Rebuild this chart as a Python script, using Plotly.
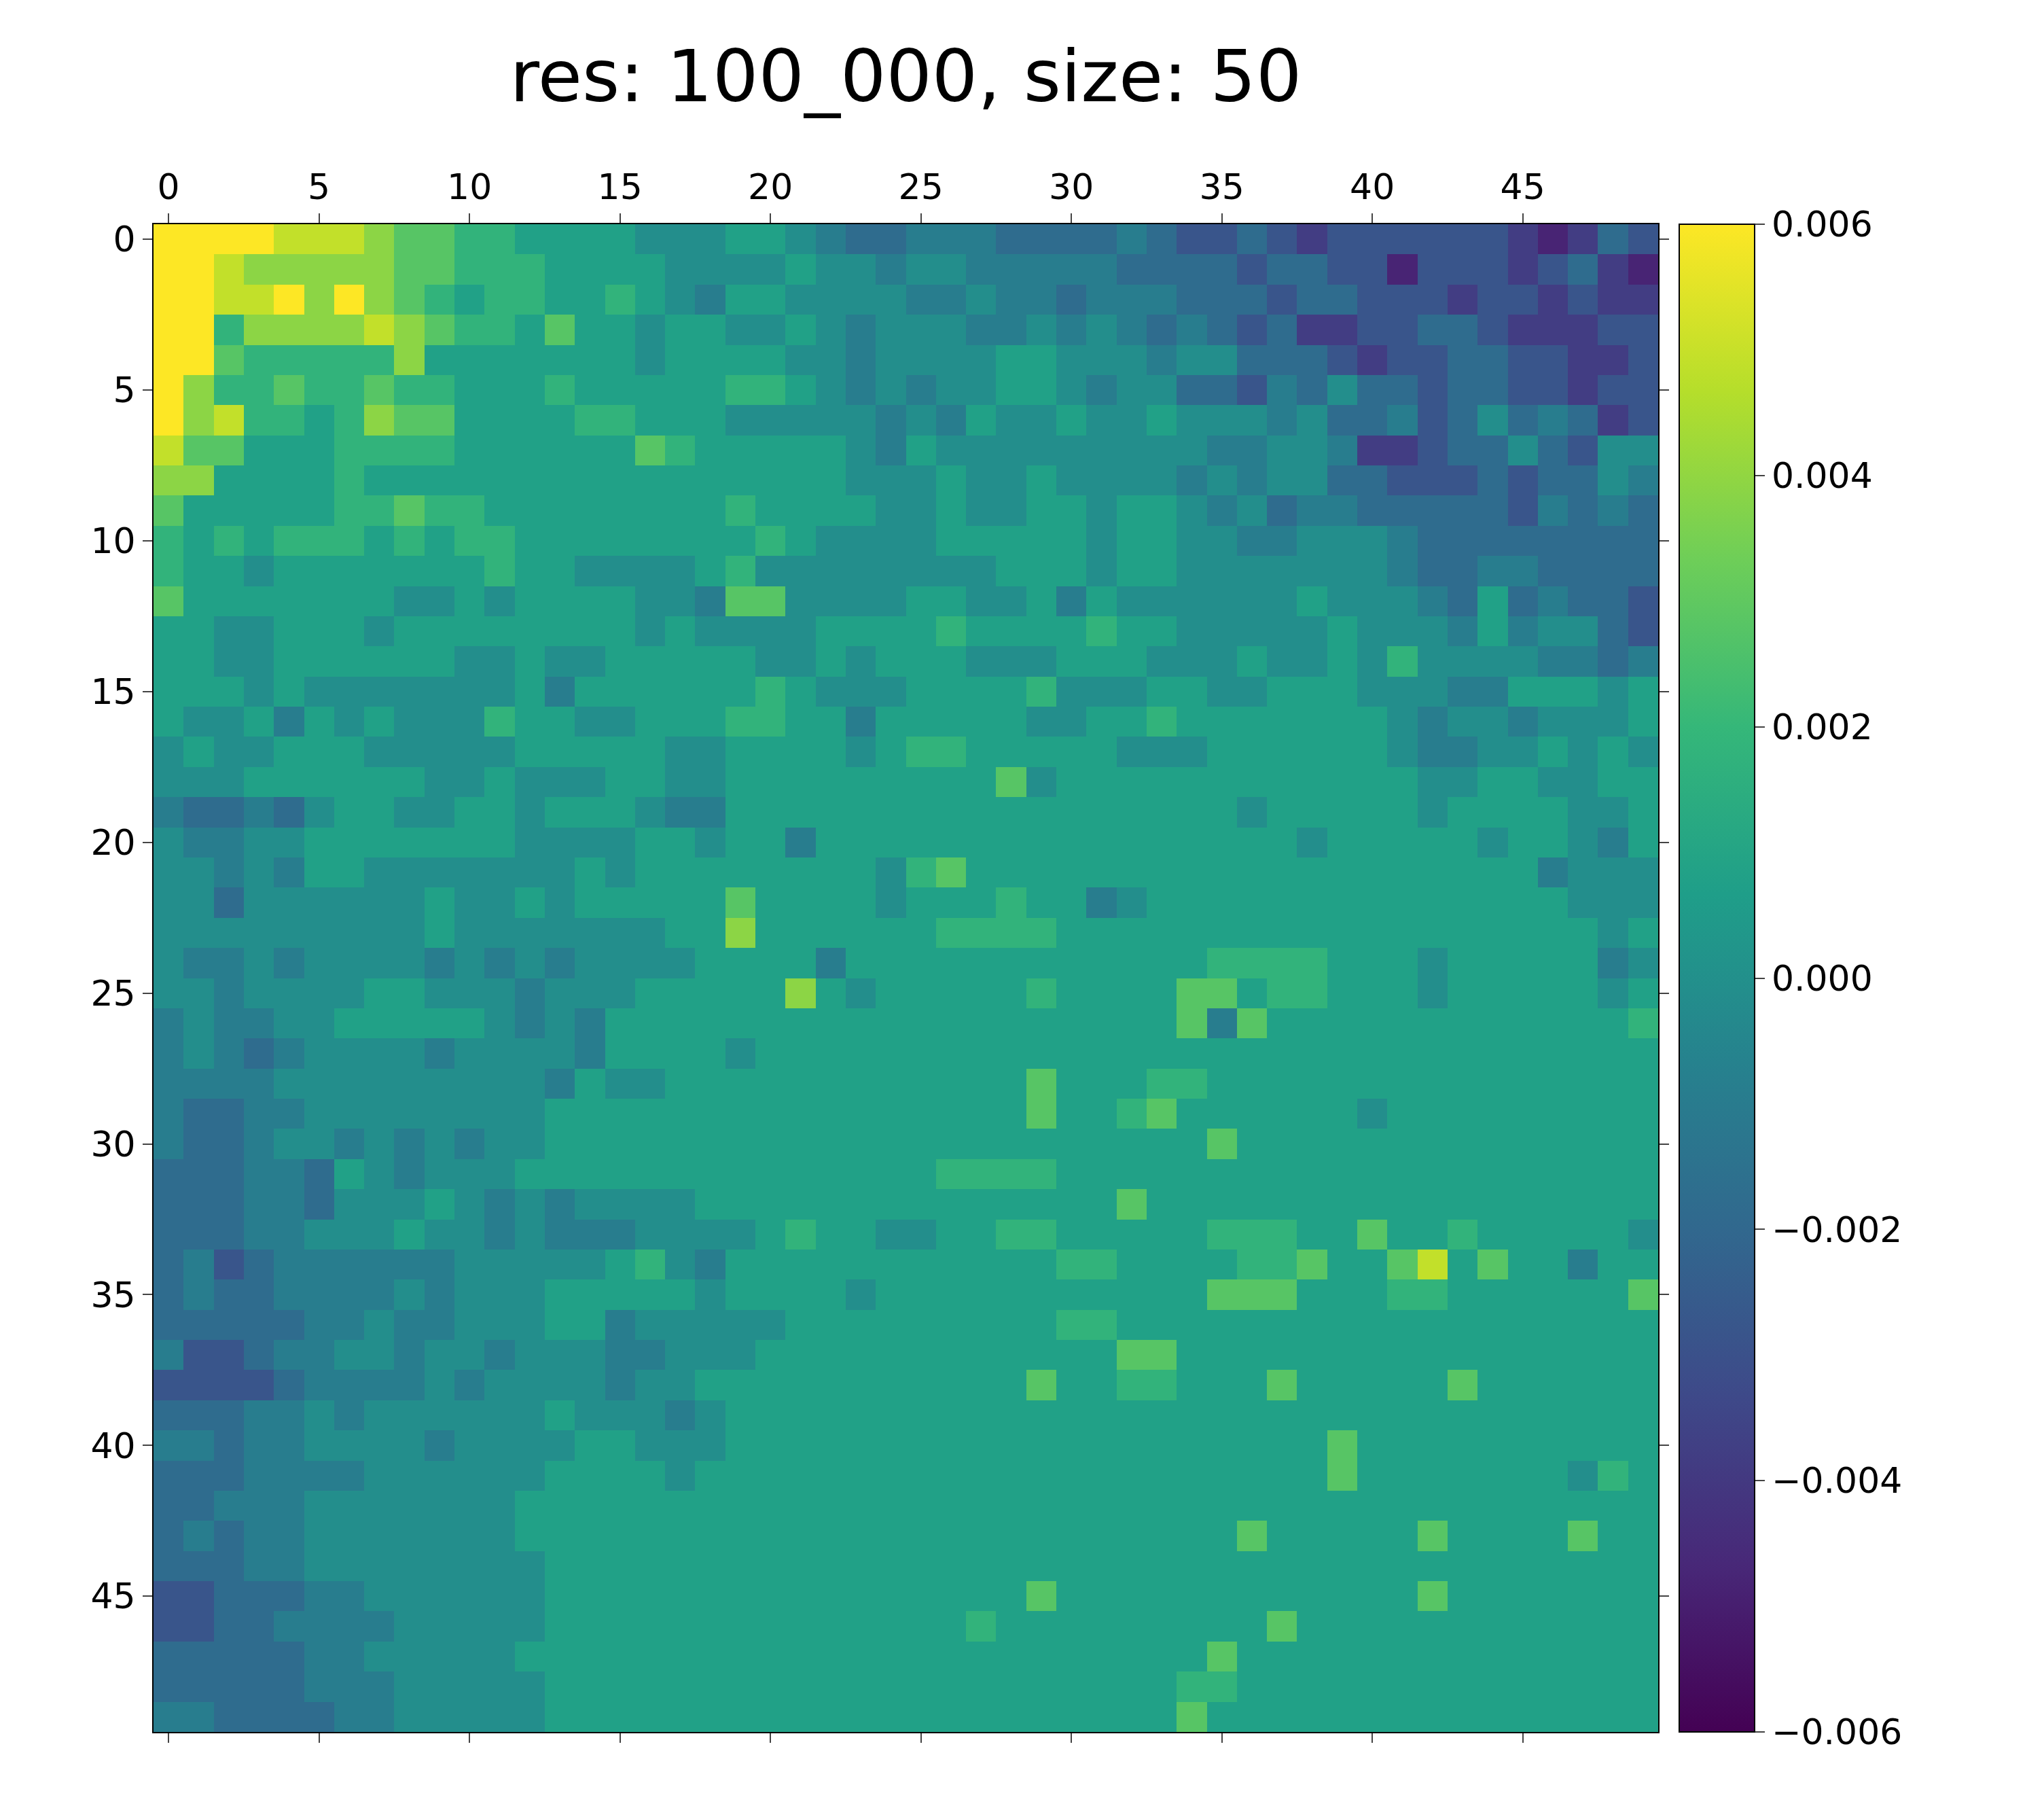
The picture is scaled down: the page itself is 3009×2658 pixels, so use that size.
import plotly.graph_objects as go

# levels: a=-6 ... g=0 ... m=+6 (approx units of 0.001)
rows = [
"mmmmlllkjjiihhhhggghhgfeefffeeeefeddedcddddddcbced",
"mmlkkkkkjjiiihhhhgggghggfggfffffeeeedeeddbdddcdecb",
"mmllmkmkjihiihhihgfhhggggffgffefffeeedeedddcddcdcc",
"mmikkkklkjiihjhhghhgghgfgggffgfgfefedeccddeedcccdd",
"mmjiiiiikhhhhhhhghhhhggfgggghhgggfggeeedcddeeddccd",
"mkiijiijiihhhihhhhhiihgfgfgghhgfggeedfegeedeeddcdd",
"mkliihikjjhhhhiihhhgggggfgfhgghgghgggfgeefdegefecd",
"ljjhhhiiiihhhhhhjihhhhhgfhgggggggggffggfccdeegedgg",
"kkhhhhihhhhhhhhhhhhhhhhggghgghggggfgfggeedddedeegf",
"jhhhhhiijiihhhhhhhhihhhhgghgghhghhgfgeffeeeeedfefe",
"ihihiiihihiihhhhhhhhihgggghhhhhghhggffgggfeeeeeeee",
"ihhghhhhhhhihhgggghigggggggghhhghhgggggggfeeffeeee",
"jhhhhhhhgghghhhhggfjjgggghhgghfhgggggghgggfehefeed",
"hhgghhhghhhhhhhhghgggghhhhihhhhihhggggghgggfhfgged",
"hhgghhhhhhgghgghhhhhgghghhhggghhhggghgghgiggggffef",
"hhhghggggggghfhhhhhhihggghhhhiggghhgghhhgggffhhhgh",
"hgghfhghgggihhgghhhiihhfhhhhhgghhihhhhhhhgfggfgggh",
"ghgghhhggggghhhhhgghhhhghiihhhhhggghhhhhhgffgghghg",
"ggghhhhhhgghggghhgghhhhhhhhhjghhhhhhhhhhhhgghhgghh",
"feefeghhgghhghhhgffhhhhhhhhhhhhhhhhhghhhhhghhhhggh",
"gffgghhhhhhhgggghhghhfhhhhhhhhhhhhhhhhghhhhhghhgfh",
"ggfgfhhggggggghghhhhhhhhgijhhhhhhhhhhhhhhhhhhhfggg",
"ggegggggghgghghhhhhjhhhhghhhihhfghhhhhhhhhhhhhhggg",
"ggggggggghggggggghhkhhhhhhiiiihhhhhhhhhhhhhhhhhhgh",
"gffgfggggfgfgfgggghhhhfhhhhhhhhhhhhiiiihhhghhhhhfg",
"ggfgggghhgggfggghhhhhkhghhhhhihhhhjjhiihhhghhhhhgh",
"fgffgghhhhhgfgfhhhhhhhhhhhhhhhhhhhjfjhhhhhhhhhhhhi",
"fgfefggggfggggfhhhhghhhhhhhhhhhhhhhhhhhhhhhhhhhhhh",
"ffffgggggggggfhgghhhhhhhhhhhhjhhhiihhhhhhhhhhhhhhh",
"feeffgggggggghhhhhhhhhhhhhhhhjhhijhhhhhhghhhhhhhhh",
"feefggfgfgfgghhhhhhhhhhhhhhhhhhhhhhjhhhhhhhhhhhhhh",
"eeeffehgfggghhhhhhhhhhhhhhiiiihhhhhhhhhhhhhhhhhhhh",
"eeeffeggghgfgfgggghhhhhhhhhhhhhhjhhhhhhhhhhhhhhhhh",
"eeeffggghggfgfffgggghihhgghhiihhhhhiiihhjhhihhhhhg",
"efdeffffffggggghigfhhhhhhhhhhhiihhhhiijhhjlhjhhfhh",
"efeeffffgfggghhhhhghhhhghhhhhhhhhhhjjjhhhiihhhhhhj",
"eeeeeffgffggghhfggggghhhhhhhhhiihhhhhhhhhhhhhhhhhh",
"fddeffggfggfgggffggghhhhhhhhhhhhjjhhhhhhhhhhhhhhhh",
"ddddeffffgfggggfgghhhhhhhhhhhjhhiihhhjhhhhhjhhhhhh",
"eeeffgfgggggghgggfghhhhhhhhhhhhhhhhhhhhhhhhhhhhhhh",
"ffeffggggfgggghhggghhhhhhhhhhhhhhhhhhhhjhhhhhhhhhh",
"eeeffffgggggghhhhghhhhhhhhhhhhhhhhhhhhhjhhhhhhhgih",
"eefffggggggghhhhhhhhhhhhhhhhhhhhhhhhhhhhhhhhhhhhhh",
"efeffggggggghhhhhhhhhhhhhhhhhhhhhhhhjhhhhhjhhhhjhh",
"eeeffgggggggghhhhhhhhhhhhhhhhhhhhhhhhhhhhhhhhhhhhh",
"ddeeeffgggggghhhhhhhhhhhhhhhhjhhhhhhhhhhhhjhhhhhhh",
"ddeeffffggggghhhhhhhhhhhhhhihhhhhhhhhjhhhhhhhhhhhh",
"eeeeeffggggghhhhhhhhhhhhhhhhhhhhhhhjhhhhhhhhhhhhhh",
"eeeeefffggggghhhhhhhhhhhhhhhhhhhhhiihhhhhhhhhhhhhh",
"ffeeeeffggggghhhhhhhhhhhhhhhhhhhhhjhhhhhhhhhhhhhhh",
]
level_values = {"a": -0.0058, "b": -0.0048, "c": -0.0038, "d": -0.0028, "e": -0.0018,
                "f": -0.0009, "g": -0.0001, "h": 0.0008, "i": 0.0018, "j": 0.0028,
                "k": 0.0039, "l": 0.0049, "m": 0.006}
N = 50
z = []
for r in rows:
    r = (r + r[-1] * N)[:N]
    z.append([level_values[c] for c in r])

L, R, T, B = 218, 2433, 322, 2541
W, H = 3009, 2658
font = dict(size=52, family="DejaVu Sans", color="black")
fig = go.Figure(go.Heatmap(
    z=z, x=list(range(N)), y=list(range(N)), colorscale="Viridis",
    zmin=-0.006, zmax=0.006,
    colorbar=dict(x=(2464 - L) / (R - L), xanchor="left", xpad=0, ypad=0, y=0.5, len=1,
                  thickness=111, outlinewidth=2, outlinecolor="black",
                  tickvals=[-0.006, -0.004, -0.002, 0, 0.002, 0.004, 0.006],
                  tickformat=".3f", ticks="outside", ticklen=14, tickwidth=2,
                  tickfont=font)))

ax = dict(showgrid=False, zeroline=False, ticks="outside", ticklen=14, tickwidth=2,
          showline=True, linewidth=2, linecolor="black", mirror="ticks",
          tickfont=font, tickvals=list(range(0, 50, 5)), range=[-0.5, 49.5])
fig.update_layout(
    width=W, height=H, plot_bgcolor="white", paper_bgcolor="white",
    margin=dict(l=L, r=W - R, t=T, b=H - B),
    title=dict(text="res: 100_000, size: 50", x=(L + R) / 2 / W, xanchor="center",
               y=1 - 104 / H, yanchor="middle",
               font=dict(size=106, family="DejaVu Sans", color="black")),
    xaxis=dict(ax, side="top"),
    yaxis=dict(ax, range=[49.5, -0.5]),
)
fig.write_html("out.html")
